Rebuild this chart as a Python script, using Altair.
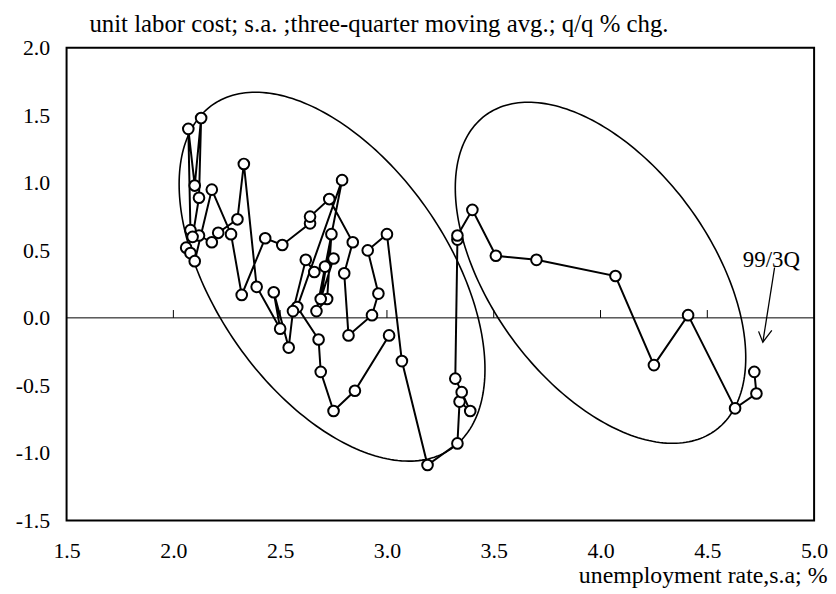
import altair as alt
import pandas as pd
import numpy as np

FONT = "Liberation Serif"

# unemployment rate (x) and unit labor cost q/q % chg (y), in path order
unemp = [3.01, 2.85, 2.75, 2.69, 2.68, 2.58, 2.79, 2.67, 2.72, 2.74,
         2.69, 2.75, 2.71, 2.66, 2.62, 2.56, 2.54, 2.47, 2.50, 2.39,
         2.33, 2.30, 2.21, 2.18, 2.12, 2.08, 2.07, 2.10, 2.13, 2.12,
         2.09, 2.06, 2.08, 2.10, 2.18, 2.27, 2.32, 2.43, 2.51, 2.64,
         2.64, 2.73, 2.84, 2.80, 2.82, 2.93, 2.96, 2.91, 3.00, 3.07,
         3.19, 3.33, 3.34, 3.39, 3.35, 3.32, 3.33, 3.33, 3.40, 3.51,
         3.70, 4.07, 4.25, 4.41, 4.63, 4.73, 4.72]
ulc = [-0.13, -0.54, -0.69, -0.40, -0.16, 0.08, 1.02, 0.05, 0.14, 0.62,
       0.14, 0.44, 0.38, 0.34, 0.43, 0.05, -0.22, 0.19, -0.08, 0.23,
       1.14, 0.73, 0.63, 0.56, 0.61, 0.65, 1.40, 0.98, 1.48, 0.89,
       0.60, 0.52, 0.48, 0.42, 0.95, 0.62, 0.17, 0.59, 0.54, 0.70,
       0.75, 0.88, 0.56, 0.33, -0.13, 0.02, 0.18, 0.50, 0.62, -0.32,
       -1.09, -0.93, -0.62, -0.69, -0.55, -0.45, 0.58, 0.61, 0.80, 0.46,
       0.43, 0.31, -0.35, 0.02, -0.67, -0.56, -0.40]

x_ticks = [1.5, 2.0, 2.5, 3.0, 3.5, 4.0, 4.5, 5.0]
y_ticks = [-1.5, -1.0, -0.5, 0.0, 0.5, 1.0, 1.5, 2.0]
inner_ticks = [2.0, 2.5, 3.0, 3.5, 4.0, 4.5]

# ellipse annotations: centre and conjugate half-axis vectors (data units)
ell_cx = [2.743, 4.000]
ell_cy = [0.305, 0.334]
ell_ux = [0.716, 0.680]
ell_uy = [-0.685, -0.628]
ell_vy = [-1.182, -1.096]

label_text = "99/3Q"
label_x = [4.80]
label_y = [0.43]
arrow_shaft_x = [4.815, 4.760]
arrow_shaft_y = [0.373, -0.18]
arrow_head_x = [4.740, 4.760, 4.802]
arrow_head_y = [-0.10, -0.18, -0.093]

df = pd.DataFrame({"i": list(range(len(unemp))), "u": unemp, "c": ulc})

t = np.linspace(0, 2 * np.pi, 241)
rows = []
for e in range(len(ell_cx)):
    for k, tt in enumerate(t):
        rows.append({"e": e, "k": k,
                     "u": ell_cx[e] + ell_ux[e] * np.cos(tt),
                     "c": ell_cy[e] + ell_uy[e] * np.cos(tt) + ell_vy[e] * np.sin(tt)})
ell_df = pd.DataFrame(rows)

xscale = alt.Scale(domain=[1.5, 5.0], nice=False, zero=False)
yscale = alt.Scale(domain=[-1.5, 2.0], nice=False, zero=False)

lab_expr = "datum.value < 0 ? '-' + format(-datum.value, '.1f') : format(datum.value, '.1f')"

xaxis = alt.Axis(values=x_ticks, labelExpr=lab_expr, tickSize=0, domain=False, grid=False,
                 labelPadding=20, labelFontSize=22, labelFont=FONT, labelColor="black",
                 title="unemployment rate,s.a; %", titleAnchor="end", titleFont=FONT,
                 titleFontSize=24, titleFontWeight="normal", titleColor="black",
                 titlePadding=3, labelFlush=False, titleX=766)
yaxis = alt.Axis(values=y_ticks, labelExpr=lab_expr, tickSize=0, domain=False, grid=False,
                 labelPadding=17, labelFontSize=22, labelFont=FONT, labelColor="black",
                 title=None)

X = alt.X("u:Q", scale=xscale, axis=xaxis)
Y = alt.Y("c:Q", scale=yscale, axis=yaxis)

ellipses = alt.Chart(ell_df).mark_line(color="black", strokeWidth=1.6).encode(
    x=X, y=Y, detail="e:N", order="k:Q")

zero = alt.Chart(pd.DataFrame({"c": [0.0]})).mark_rule(color="black", strokeWidth=1).encode(y=Y)

tick_df = pd.DataFrame({"u": inner_ticks, "c": [0.0] * len(inner_ticks), "c2": [0.058] * len(inner_ticks)})
ticks = alt.Chart(tick_df).mark_rule(color="black", strokeWidth=1).encode(x=X, y=Y, y2="c2:Q")

path = alt.Chart(df).mark_line(color="black", strokeWidth=2).encode(x=X, y=Y, order="i:Q")
pts = alt.Chart(df).mark_point(shape="circle", filled=True, fill="white", stroke="black",
                               strokeWidth=2, size=115, opacity=1).encode(x=X, y=Y)

shaft = alt.Chart(pd.DataFrame({"u": arrow_shaft_x, "c": arrow_shaft_y, "k": [0, 1]})).mark_line(
    color="black", strokeWidth=1.3).encode(x=X, y=Y, order="k:Q")
head = alt.Chart(pd.DataFrame({"u": arrow_head_x, "c": arrow_head_y, "k": [0, 1, 2]})).mark_line(
    color="black", strokeWidth=1.3).encode(x=X, y=Y, order="k:Q")
label = alt.Chart(pd.DataFrame({"u": label_x, "c": label_y, "t": [label_text]})).mark_text(
    font=FONT, fontSize=23, color="black", align="center", baseline="middle").encode(
    x=X, y=Y, text="t:N")

chart = alt.layer(ellipses, zero, ticks, path, pts, shaft, head, label).properties(
    width=753, height=476,
    title=alt.TitleParams("unit labor cost; s.a. ;three-quarter moving avg.; q/q % chg.",
                          anchor="start", frame="group", dx=23, offset=0, fontSize=25, font=FONT,
                          fontWeight="normal", color="black"),
    autosize=alt.AutoSizeParams(type="none"),
    padding={"left": 59, "top": 38, "right": 14, "bottom": 70},
    background="white",
).configure_view(stroke="black", strokeWidth=2)

chart.save("out.html", embed_options={"renderer": "svg", "actions": False})
